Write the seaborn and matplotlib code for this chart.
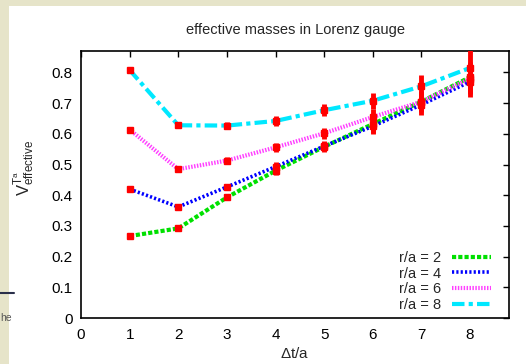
import matplotlib
matplotlib.use("Agg")
import matplotlib.pyplot as plt
import seaborn as sns
import pandas as pd
from matplotlib.patches import Rectangle

sns.set_style("white")
plt.rcParams['font.family'] = ['Liberation Sans', 'DejaVu Sans']
plt.rcParams['mathtext.fontset'] = 'custom'
plt.rcParams['mathtext.rm'] = 'Liberation Sans'
plt.rcParams['mathtext.it'] = 'Liberation Sans'

dt = [1, 2, 3, 4, 5, 6, 7, 8]
v_r2 = [0.267, 0.292, 0.393, 0.480, 0.558, 0.632, 0.705, 0.785]
v_r4 = [0.420, 0.362, 0.427, 0.493, 0.560, 0.625, 0.695, 0.770]
v_r6 = [0.614, 0.485, 0.513, 0.556, 0.602, 0.655, 0.705, 0.780]
v_r8 = [0.808, 0.628, 0.627, 0.642, 0.677, 0.708, 0.755, 0.815]
e_r2 = [0.004, 0.007, 0.010, 0.015, 0.017, 0.030, 0.035, 0.050]
e_r4 = [0.004, 0.007, 0.010, 0.014, 0.017, 0.025, 0.032, 0.050]
e_r6 = [0.004, 0.008, 0.011, 0.014, 0.018, 0.025, 0.032, 0.050]
e_r8 = [0.004, 0.008, 0.012, 0.016, 0.019, 0.026, 0.038, 0.060]
labels = ["r/a = 2", "r/a = 4", "r/a = 6", "r/a = 8"]
colors = ["#00e000", "#0000ff", "#ff40ff", "#00e8ff"]

series = [v_r2, v_r4, v_r6, v_r8]
errors = [e_r2, e_r4, e_r6, e_r8]

rows = []
for lab, vals, errs in zip(labels, series, errors):
    for x, v, e in zip(dt, vals, errs):
        rows.append({"dt": x, "V": v, "err": e, "series": lab})
df = pd.DataFrame(rows)

fig = plt.figure(figsize=(5.26, 3.64), dpi=100)
fig.patch.set_facecolor("#e6e4c9")
bg = fig.add_axes([0, 0, 1, 1], zorder=-10)
bg.set_xlim(0, 526)
bg.set_ylim(364, 0)
bg.axis("off")
bg.add_patch(Rectangle((9, 6), 517, 358, facecolor="white", edgecolor="none"))
bg.plot([0, 14], [293, 293], color="#2a2f4a", lw=1.5)
bg.text(0, 318, "he", fontsize=7.5, color="#555555", va="center", ha="left")

ax = fig.add_axes([81/526, 1 - 318/364, (509 - 81)/526, (318 - 51)/364])
ax.set_facecolor("white")

dashes = [(1.0, 0.5), (0.6, 0.6), (0.35, 0.35), (3, 1, 1, 1)]
lws = [3, 2.6, 3, 3]
for lab, col, d, lw in zip(labels, colors, dashes, lws):
    sub = df[df["series"] == lab]
    sns.lineplot(data=sub, x="dt", y="V", ax=ax, color=col, lw=lw,
                 dashes=False, label=lab, zorder=2)
    ax.lines[-1].set_dashes(d)

for lab in labels:
    sub = df[df["series"] == lab]
    ax.errorbar(sub["dt"], sub["V"], yerr=sub["err"], fmt="s", color="#ff0000",
                ms=4.5, elinewidth=3.5, capsize=0, zorder=3)

ax.set_xlim(0, 8.8)
ax.set_ylim(0, 0.87)
ax.set_xticks(range(0, 9))
ax.set_yticks([0, 0.1, 0.2, 0.3, 0.4, 0.5, 0.6, 0.7, 0.8])
ax.set_yticklabels(["0", "0.1", "0.2", "0.3", "0.4", "0.5", "0.6", "0.7", "0.8"])
ax.tick_params(direction="in", length=4, width=1, top=True, right=True,
               labelsize=11, colors="black", pad=6)
ax.tick_params(axis="x", pad=7)
for s in ax.spines.values():
    s.set_color("black")
    s.set_linewidth(1.2)

ax.set_xlabel(r"$\Delta$t/a", fontsize=11, labelpad=3)
ax.set_ylabel(r"$\mathrm{V}^{\mathrm{T}^{\mathrm{a}}}_{\mathrm{effective}}$", fontsize=12)
ax.yaxis.set_label_coords((36 - 81) / 428, (318 - 168) / 267)
ax.set_title("effective masses in Lorenz gauge", fontsize=10.5, pad=12)

leg = ax.legend(loc="lower right", frameon=False, markerfirst=False, fontsize=10.5,
                handlelength=2.7, labelspacing=0.12, borderaxespad=0, borderpad=0,
                handletextpad=0.7,
                bbox_to_anchor=((491 - 81) / 428, (318 - 312) / 267))

fig.savefig("out.png", dpi=100, facecolor=fig.get_facecolor())
